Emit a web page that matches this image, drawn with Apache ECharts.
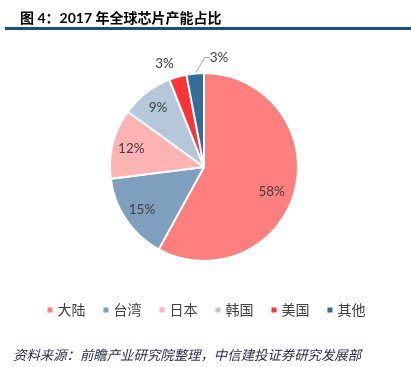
<!DOCTYPE html>
<html><head><meta charset="utf-8">
<script src="https://cdn.jsdelivr.net/npm/echarts@6/dist/echarts.min.js"></script>
<style>html,body{margin:0;padding:0;background:#fff}#c{width:411px;height:367px}</style>
</head><body><div id="c"></div>
<script>
var categories = ['大陆', '台湾', '日本', '韩国', '美国', '其他'];
var shares = [58, 15, 12, 9, 3, 3];
var colors = ['#FF7F7F', '#7F9FBF', '#FFB3B3', '#B4C8D9', '#FF3333', '#336E99'];
var titleText = '图 4：2017 年全球芯片产能占比';
var sourceText = '资料来源：前瞻产业研究院整理，中信建投证券研究发展部';

var FONT = 'Lato, "Noto Sans CJK SC", sans-serif';
var chart = echarts.init(document.getElementById('c'), null, {renderer: 'canvas'});

var mainData = categories.map(function (n, i) {
  var d = {name: n, value: shares[i], itemStyle: {color: colors[i]}};
  if (i === 4) {
    d.label = {show: true, position: 'outside'};
    d.labelLine = {show: false, length: 14, length2: 0};
  } else if (i === 5) {
    d.label = {show: true, position: 'outside'};
    d.labelLine = {show: true, length: 15, length2: 5};
  } else {
    d.label = {show: false};
  }
  return d;
});
var innerData = categories.map(function (n, i) {
  return {name: n, value: shares[i], label: {show: i < 4}};
});

chart.setOption({
  animation: false,
  title: {
    text: titleText, left: 15, top: 6,
    textStyle: {fontSize: 14, fontWeight: 'bold', color: '#000', fontFamily: FONT}
  },
  graphic: [
    {type: 'rect', left: 5, top: 27, shape: {width: 406, height: 3}, style: {fill: '#1B4F7E'}},
    {type: 'text', left: 13, top: 349, style: {text: sourceText, fontSize: 13.4, fontStyle: 'italic', fill: '#2a2f45', fontFamily: FONT}}
  ],
  legend: {
    bottom: 45, left: 'center',
    icon: 'rect', itemWidth: 7, itemHeight: 7, itemGap: 16,
    textStyle: {fontSize: 14, color: '#404040', fontFamily: FONT, padding: [0, 0, 0, -1]},
    data: categories.map(function (n, i) { return {name: n, itemStyle: {color: colors[i]}}; })
  },
  series: [
    {
      type: 'pie', center: [204, 167], radius: [0, 94], startAngle: 90, clockwise: true,
      itemStyle: {borderColor: '#fff', borderWidth: 2},
      label: {fontSize: 13.5, color: '#404040', fontFamily: FONT, formatter: '{c}%'},
      labelLine: {lineStyle: {color: '#A6A6A6', width: 1}},
      labelLayout: function (p) {
        if (p.dataIndex === 5) {
          return {x: p.labelRect.x + p.labelRect.width + 26, y: p.labelRect.y + p.labelRect.height / 2 - 1, align: 'left', verticalAlign: 'middle'};
        }
        if (p.dataIndex === 4) {
          return {x: p.labelRect.x + p.labelRect.width / 2 + 27, y: p.labelRect.y + p.labelRect.height / 2 - 10, align: 'center', verticalAlign: 'middle'};
        }
      },
      data: mainData
    },
    {
      type: 'pie', center: [204, 167], radius: [50, 94], startAngle: 90, clockwise: true,
      silent: true, legendHoverLink: false,
      itemStyle: {color: 'rgba(0,0,0,0)', borderWidth: 0},
      label: {position: 'inside', fontSize: 13.5, color: '#404040', fontFamily: FONT, formatter: '{c}%'},
      labelLine: {show: false},
      labelLayout: function (p) {
        if (p.dataIndex === 0) {
          return {x: p.labelRect.x + p.labelRect.width / 2 - 5, y: p.labelRect.y + p.labelRect.height / 2 + 6, align: 'center', verticalAlign: 'middle'};
        }
      },
      data: innerData
    }
  ]
});
</script></body></html>
